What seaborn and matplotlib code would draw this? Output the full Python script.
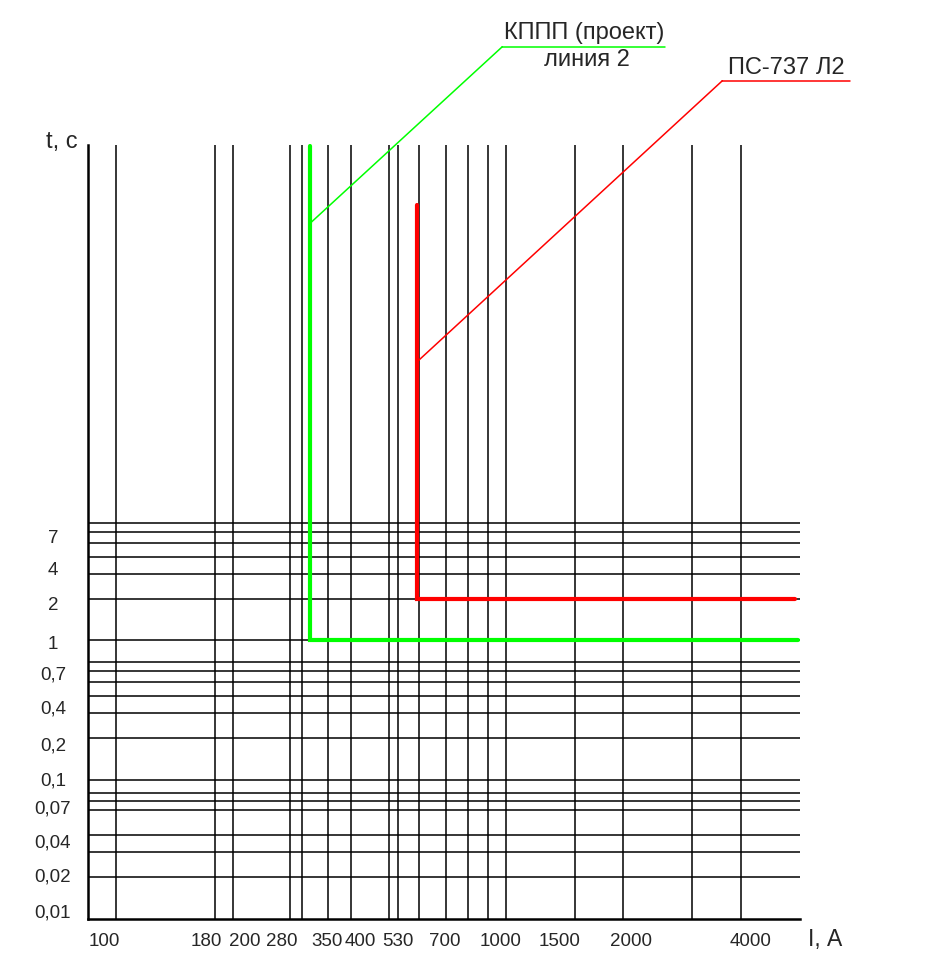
import matplotlib
matplotlib.use("Agg")
import matplotlib.pyplot as plt
import matplotlib.transforms as mtransforms
import pandas as pd
import seaborn as sns

# Сетка и подписи осей
x_grid = [100, 180, 200, 280, 300, 350, 400, 500, 530, 600, 700, 800, 900,
          1000, 1500, 2000, 3000, 4000]
x_ticks = [100, 180, 200, 280, 350, 400, 530, 700, 1000, 1500, 2000, 4000]
x_ticklabels = ["100", "180", "200", "280", "350", "400", "530", "700",
                "1000", "1500", "2000", "4000"]

y_grid = [7, 6, 5, 4, 3, 2, 1, 0.7, 0.6, 0.5, 0.4, 0.3, 0.2, 0.1,
          0.08, 0.07, 0.06, 0.04, 0.03, 0.02]
y_ticks = [7, 4, 2, 1, 0.7, 0.4, 0.2, 0.1, 0.07, 0.04, 0.02, 0.01]
y_ticklabels = ["7", "4", "2", "1", "0,7", "0,4", "0,2", "0,1",
                "0,07", "0,04", "0,02", "0,01"]

# Характеристики защит (ток, А / время, с)
green_name = "КППП (проект)"
green_I = [315, 315, 5600]
green_t = [3600, 1, 1]
green_mark_t = 1000

red_name = "ПС-737 Л2"
red_I = [590, 590, 5500]
red_t = [1350, 2, 2]
red_mark_t = 100

x_lim = (84.8, 5674)
y_lim = (0.01, 3641)

sns.set_style("white")
plt.rcParams["font.family"] = ["Liberation Sans", "DejaVu Sans"]

fig = plt.figure(figsize=(9.44, 9.56), dpi=100)
ax = fig.add_axes([0.0932, 0.039, 0.7543, 0.8093])
ax.set_xscale("log")
ax.set_yscale("log")

# сетка
for v in x_grid:
    ax.axvline(v, color="black", lw=1.1, zorder=1)
for v in y_grid:
    ax.axhline(v, color="black", lw=1.1, zorder=1)

green_df = pd.DataFrame({"I": green_I, "t": green_t})
red_df = pd.DataFrame({"I": red_I, "t": red_t})
for df, col in [(green_df, "#00ff00"), (red_df, "#ff0000")]:
    sns.lineplot(data=df, x="I", y="t", sort=False, estimator=None, ax=ax,
                 color=col, lw=3, solid_capstyle="round",
                 solid_joinstyle="miter", zorder=3, clip_on=False)

ax.set_xlim(*x_lim)
ax.set_ylim(*y_lim)
ax.minorticks_off()
ax.set_xticks(x_ticks)
ax.set_xticklabels(x_ticklabels)
ax.set_yticks(y_ticks)
ax.set_yticklabels(y_ticklabels)
ax.tick_params(axis="x", length=0, pad=10.5, labelsize=13.5)
ax.tick_params(axis="y", length=0, pad=25.2, labelsize=13.5)

# подписи в оригинале разнесены вручную (сдвиг в пикселях)
x_shift = [-12, -9, 11, -9, -1, 10, -1, -1, -5, -15, 8, 10]
y_shift = [-14, -12, -5, -2, -11, -11, -6, 1, -6, -6, 2, 8]
for lab, dx in zip(ax.get_xticklabels(), x_shift):
    lab.set_transform(lab.get_transform() + mtransforms.ScaledTranslation(
        dx / 100, 0, fig.dpi_scale_trans))
for lab, dy in zip(ax.get_yticklabels(), y_shift):
    lab.set_ha("center")
    lab.set_transform(lab.get_transform() + mtransforms.ScaledTranslation(
        0, dy / 100, fig.dpi_scale_trans))

sns.despine(ax=ax)
for side in ["left", "bottom"]:
    ax.spines[side].set_color("black")
    ax.spines[side].set_linewidth(1.8)

ax.set_ylabel("t, с", rotation=0, fontsize=17, ha="center", va="baseline")
ax.yaxis.set_label_coords(-0.037, 0.9965)
ax.set_xlabel("I, А", fontsize=16.5, ha="center", va="baseline")
ax.xaxis.set_label_coords(1.035, -0.0353)

# выноски
ax.annotate("", xy=(green_I[0], green_mark_t), xycoords="data",
            xytext=(0.5819, 1.1271), textcoords="axes fraction",
            arrowprops=dict(arrowstyle="-", color="#00ff00", lw=1.1,
                            shrinkA=0, shrinkB=0))
ax.plot([0.5819, 0.8104], [1.1271, 1.1271], transform=ax.transAxes,
        color="#00ff00", lw=1.1, clip_on=False)
ax.text(0.6966, 1.1366, green_name, transform=ax.transAxes, fontsize=17,
        ha="center", va="baseline")
ax.text(0.7008, 1.1021, "линия 2", transform=ax.transAxes, fontsize=17,
        ha="center", va="baseline")

ax.annotate("", xy=(red_I[0], red_mark_t), xycoords="data",
            xytext=(0.8909, 1.0831), textcoords="axes fraction",
            arrowprops=dict(arrowstyle="-", color="#ff0000", lw=1.1,
                            shrinkA=0, shrinkB=0))
ax.plot([0.8909, 1.0698], [1.0831, 1.0831], transform=ax.transAxes,
        color="#ff0000", lw=1.1, clip_on=False)
ax.text(0.9803, 1.0918, red_name, transform=ax.transAxes, fontsize=17,
        ha="center", va="baseline")

fig.savefig("out.png", dpi=100)
